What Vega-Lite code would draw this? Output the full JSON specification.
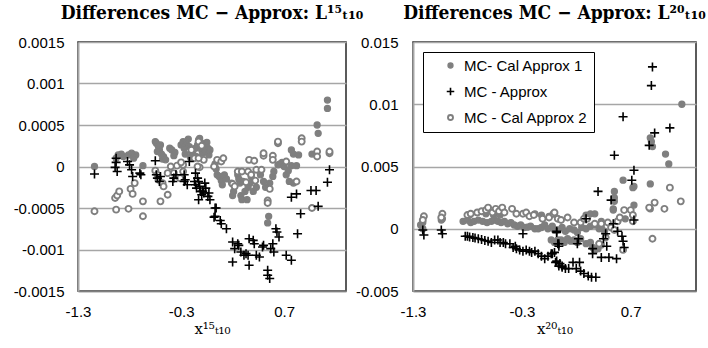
{
"$schema": "https://vega.github.io/schema/vega-lite/v6.json",
"padding": {"left": 12, "top": 3, "right": 0, "bottom": 0},
"background": "white",
"spacing": 67,
"bounds": "flush",
"config": {
  "view": {"stroke": "#262626", "strokeWidth": 1.5},
  "axis": {"labelFont": "Liberation Sans", "labelFontSize": 15, "labelColor": "#000", "ticks": false, "tickSize": 0, "labelFlush": false, "labelOverlap": false, "gridColor": "#a6a6a6", "gridWidth": 1.5},
  "title": {"font": "'DejaVu Serif Condensed', 'Liberation Serif', serif", "fontSize": 19, "fontWeight": "bold", "frame": "group", "offset": 12, "color": "#000"}
},
"resolve": {"scale": {"shape": "independent", "fill": "independent", "stroke": "independent", "strokeWidth": "independent"}, "legend": {"shape": "independent", "fill": "independent", "stroke": "independent", "strokeWidth": "independent"}},
"datasets": {
"L": [
{"s":"a","x":-1.14,"y":0},{"s":"a","x":-0.93,"y":0.0001},{"s":"a","x":-0.91,"y":0.00014},{"s":"a","x":-0.88,"y":0.00015},{"s":"a","x":-0.86,"y":0.00012},{"s":"a","x":-0.81,"y":0.00014},{"s":"a","x":-0.78,"y":0.00016},{"s":"a","x":-0.74,"y":0.00014},{"s":"a","x":-0.76,"y":0.0001},{"s":"a","x":-0.67,"y":0.00001},{"s":"a","x":-0.55,"y":0.0003},{"s":"a","x":-0.54,"y":0.00028},{"s":"a","x":-0.53,"y":0.00018},{"s":"a","x":-0.52,"y":0.00024},{"s":"a","x":-0.51,"y":0.0002},{"s":"a","x":-0.5,"y":0.00026},{"s":"a","x":-0.49,"y":0.00015},{"s":"a","x":-0.48,"y":0.00009},{"s":"a","x":-0.47,"y":0.00012},{"s":"a","x":-0.45,"y":0.00008},{"s":"a","x":-0.41,"y":0.00022},{"s":"a","x":-0.39,"y":0.0002},{"s":"a","x":-0.37,"y":0.00013},{"s":"a","x":-0.36,"y":0.00017},{"s":"a","x":-0.3,"y":0.00026},{"s":"a","x":-0.28,"y":0.0003},{"s":"a","x":-0.27,"y":0.00022},{"s":"a","x":-0.26,"y":0.00015},{"s":"a","x":-0.25,"y":0.00028},{"s":"a","x":-0.23,"y":0.00033},{"s":"a","x":-0.22,"y":0.00024},{"s":"a","x":-0.21,"y":0.00011},{"s":"a","x":-0.2,"y":0.00018},{"s":"a","x":-0.18,"y":0.00014},{"s":"a","x":-0.16,"y":0.00022},{"s":"a","x":-0.15,"y":0.00012},{"s":"a","x":-0.14,"y":0.00026},{"s":"a","x":-0.13,"y":0.00032},{"s":"a","x":-0.12,"y":0.00034},{"s":"a","x":-0.11,"y":0.00024},{"s":"a","x":-0.1,"y":0.0002},{"s":"a","x":-0.1,"y":0.00028},{"s":"a","x":-0.09,"y":0.00016},{"s":"a","x":-0.08,"y":0.00026},{"s":"a","x":-0.07,"y":0.00021},{"s":"a","x":-0.06,"y":0.00018},{"s":"a","x":-0.05,"y":0.00029},{"s":"a","x":-0.04,"y":0.00022},{"s":"a","x":-0.03,"y":0.00014},{"s":"a","x":-0.02,"y":0.0002},{"s":"a","x":0.03,"y":0.00003},{"s":"a","x":0.04,"y":-0.00003},{"s":"a","x":0.05,"y":-0.0001},{"s":"a","x":0.07,"y":-0.00012},{"s":"a","x":0.09,"y":-0.00017},{"s":"a","x":0.1,"y":-0.00022},{"s":"a","x":0.12,"y":-0.0001},{"s":"a","x":0.14,"y":-0.00015},{"s":"a","x":0.19,"y":-0.0002},{"s":"a","x":0.2,"y":-0.00035},{"s":"a","x":0.21,"y":-0.0003},{"s":"a","x":0.25,"y":-0.0001},{"s":"a","x":0.26,"y":-0.00015},{"s":"a","x":0.27,"y":-0.0002},{"s":"a","x":0.28,"y":-0.00035},{"s":"a","x":0.29,"y":-0.0004},{"s":"a","x":0.3,"y":-0.00018},{"s":"a","x":0.32,"y":-0.0003},{"s":"a","x":0.34,"y":-0.0004},{"s":"a","x":0.35,"y":-0.00025},{"s":"a","x":0.37,"y":-0.0002},{"s":"a","x":0.38,"y":-0.00012},{"s":"a","x":0.4,"y":-0.0003},{"s":"a","x":0.43,"y":-0.00025},{"s":"a","x":0.47,"y":-0.0001},{"s":"a","x":0.5,"y":-0.00018},{"s":"a","x":0.52,"y":-0.00025},{"s":"a","x":0.54,"y":-0.00042},{"s":"a","x":0.55,"y":-0.0006},{"s":"a","x":0.54,"y":-0.00068},{"s":"a","x":0.56,"y":-0.0002},{"s":"a","x":0.59,"y":-0.00012},{"s":"a","x":0.6,"y":-0.00006},{"s":"a","x":0.64,"y":0.00002},{"s":"a","x":0.66,"y":0.00003},{"s":"a","x":0.68,"y":0.00005},{"s":"a","x":0.7,"y":0},{"s":"a","x":0.72,"y":-0.0001},{"s":"a","x":0.74,"y":-0.00005},{"s":"a","x":0.75,"y":-0.00018},{"s":"a","x":0.77,"y":0.0002},{"s":"a","x":0.77,"y":0.00001},{"s":"a","x":0.79,"y":0.00015},{"s":"a","x":0.79,"y":-0.0002},{"s":"a","x":0.82,"y":0.00001},{"s":"a","x":0.84,"y":0.00014},{"s":"a","x":0.97,"y":0.00015},{"s":"a","x":1.02,"y":0.0005},{"s":"a","x":1.03,"y":0.0004},{"s":"a","x":1.12,"y":0.0008},{"s":"a","x":1.12,"y":0.0007},
{"s":"c","x":-1.14,"y":-0.00054},{"s":"c","x":-0.94,"y":-0.00038},{"s":"c","x":-0.92,"y":-0.00035},{"s":"c","x":-0.9,"y":-0.0003},{"s":"c","x":-0.93,"y":-0.00052},{"s":"c","x":-0.81,"y":-0.00051},{"s":"c","x":-0.79,"y":-0.00027},{"s":"c","x":-0.77,"y":-0.00033},{"s":"c","x":-0.75,"y":-0.0002},{"s":"c","x":-0.67,"y":-0.00042},{"s":"c","x":-0.67,"y":-0.0006},{"s":"c","x":-0.55,"y":-0.00005},{"s":"c","x":-0.53,"y":-0.0001},{"s":"c","x":-0.52,"y":-0.00016},{"s":"c","x":-0.48,"y":-0.0002},{"s":"c","x":-0.47,"y":-0.00024},{"s":"c","x":-0.5,"y":-0.00042},{"s":"c","x":-0.43,"y":-0.00034},{"s":"c","x":-0.43,"y":-0.00008},{"s":"c","x":-0.4,"y":0},{"s":"c","x":-0.34,"y":0.00001},{"s":"c","x":-0.37,"y":-0.00008},{"s":"c","x":-0.28,"y":-0.00006},{"s":"c","x":-0.31,"y":-0.00014},{"s":"c","x":-0.28,"y":0.00002},{"s":"c","x":-0.12,"y":-0.00001},{"s":"c","x":-0.17,"y":0.0001},{"s":"c","x":-0.2,"y":0.0002},{"s":"c","x":-0.14,"y":0},{"s":"c","x":-0.3,"y":0.00005},{"s":"c","x":-0.08,"y":0.00008},{"s":"c","x":-0.13,"y":0.0003},{"s":"c","x":-0.1,"y":0.00025},{"s":"c","x":-0.13,"y":0.0001},{"s":"c","x":0.02,"y":0},{"s":"c","x":0.05,"y":0.00008},{"s":"c","x":0.09,"y":0.00006},{"s":"c","x":0.11,"y":0.0001},{"s":"c","x":0.25,"y":-0.00006},{"s":"c","x":0.29,"y":-0.00006},{"s":"c","x":0.35,"y":-0.00006},{"s":"c","x":0.38,"y":-0.0001},{"s":"c","x":0.43,"y":-0.00004},{"s":"c","x":0.48,"y":-0.00004},{"s":"c","x":0.42,"y":-0.00017},{"s":"c","x":0.33,"y":-0.00019},{"s":"c","x":0.2,"y":-0.00021},{"s":"c","x":0.22,"y":-0.00024},{"s":"c","x":0.56,"y":-0.00027},{"s":"c","x":0.54,"y":-0.00041},{"s":"c","x":0.54,"y":-0.00044},{"s":"c","x":0.36,"y":0.00008},{"s":"c","x":0.41,"y":0.00007},{"s":"c","x":0.5,"y":0.00013},{"s":"c","x":0.5,"y":0.00016},{"s":"c","x":0.59,"y":0.00013},{"s":"c","x":0.59,"y":0.00008},{"s":"c","x":0.64,"y":0.00028},{"s":"c","x":0.64,"y":0.0003},{"s":"c","x":0.72,"y":0.00006},{"s":"c","x":0.82,"y":-0.00018},{"s":"c","x":0.87,"y":0.00034},{"s":"c","x":0.87,"y":0.0003},{"s":"c","x":1.02,"y":0.00018},{"s":"c","x":1.02,"y":0.00012},{"s":"c","x":1.14,"y":0.00016},{"s":"c","x":1.14,"y":0.00018},{"s":"c","x":0.97,"y":-0.0005},
{"s":"b","x":-1.14,"y":-0.00009},{"s":"b","x":-0.93,"y":0.00005},{"s":"b","x":-0.94,"y":-0.00001},{"s":"b","x":-0.92,"y":-0.00006},{"s":"b","x":-0.93,"y":0.0001},{"s":"b","x":-0.82,"y":0.00006},{"s":"b","x":-0.8,"y":0.00002},{"s":"b","x":-0.78,"y":-0.00004},{"s":"b","x":-0.77,"y":-0.00012},{"s":"b","x":-0.7,"y":-0.00008},{"s":"b","x":-0.69,"y":-0.0001},{"s":"b","x":-0.55,"y":0.00007},{"s":"b","x":-0.54,"y":-0.0001},{"s":"b","x":-0.53,"y":-0.00014},{"s":"b","x":-0.51,"y":-0.00018},{"s":"b","x":-0.5,"y":-0.00012},{"s":"b","x":-0.38,"y":-0.00018},{"s":"b","x":-0.37,"y":-0.00014},{"s":"b","x":-0.35,"y":-0.0001},{"s":"b","x":-0.27,"y":-0.0001},{"s":"b","x":-0.27,"y":-0.00018},{"s":"b","x":-0.26,"y":-0.00016},{"s":"b","x":-0.22,"y":0.00006},{"s":"b","x":-0.24,"y":-0.00022},{"s":"b","x":-0.17,"y":-0.00018},{"s":"b","x":-0.16,"y":-0.00022},{"s":"b","x":-0.14,"y":-0.00014},{"s":"b","x":-0.13,"y":-0.00018},{"s":"b","x":-0.12,"y":-0.00024},{"s":"b","x":-0.11,"y":-0.0003},{"s":"b","x":-0.1,"y":-0.00034},{"s":"b","x":-0.09,"y":-0.0003},{"s":"b","x":-0.08,"y":-0.00032},{"s":"b","x":-0.13,"y":-0.0004},{"s":"b","x":-0.15,"y":-0.00026},{"s":"b","x":-0.16,"y":-0.00008},{"s":"b","x":-0.06,"y":-0.00026},{"s":"b","x":-0.04,"y":-0.00036},{"s":"b","x":-0.03,"y":-0.00032},{"s":"b","x":-0.02,"y":-0.0004},{"s":"b","x":-0.07,"y":-0.0002},{"s":"b","x":0.03,"y":-0.0005},{"s":"b","x":0.03,"y":-0.0006},{"s":"b","x":0.04,"y":-0.0005},{"s":"b","x":0.08,"y":-0.00065},{"s":"b","x":0.09,"y":-0.00069},{"s":"b","x":0.14,"y":-0.00075},{"s":"b","x":0.02,"y":-0.00061},{"s":"b","x":0.2,"y":-0.00091},{"s":"b","x":0.22,"y":-0.00099},{"s":"b","x":0.25,"y":-0.00093},{"s":"b","x":0.26,"y":-0.00095},{"s":"b","x":0.28,"y":-0.00103},{"s":"b","x":0.31,"y":-0.00107},{"s":"b","x":0.33,"y":-0.00105},{"s":"b","x":0.35,"y":-0.00107},{"s":"b","x":0.36,"y":-0.00087},{"s":"b","x":0.4,"y":-0.00089},{"s":"b","x":0.41,"y":-0.00093},{"s":"b","x":0.43,"y":-0.00107},{"s":"b","x":0.46,"y":-0.00109},{"s":"b","x":0.49,"y":-0.00097},{"s":"b","x":0.5,"y":-0.00095},{"s":"b","x":0.57,"y":-0.00099},{"s":"b","x":0.59,"y":-0.00093},{"s":"b","x":0.62,"y":-0.00075},{"s":"b","x":0.63,"y":-0.00079},{"s":"b","x":0.65,"y":-0.00085},{"s":"b","x":0.6,"y":-0.00103},{"s":"b","x":0.2,"y":-0.00115},{"s":"b","x":0.36,"y":-0.00119},{"s":"b","x":0.54,"y":-0.00125},{"s":"b","x":0.54,"y":-0.00131},{"s":"b","x":0.56,"y":-0.00135},{"s":"b","x":0.72,"y":-0.00107},{"s":"b","x":0.77,"y":-0.00113},{"s":"b","x":0.83,"y":-0.00081},{"s":"b","x":0.86,"y":-0.00057},{"s":"b","x":0.77,"y":-0.00037},{"s":"b","x":0.82,"y":-0.00033},{"s":"b","x":0.96,"y":-0.00029},{"s":"b","x":1.01,"y":-0.00029},{"s":"b","x":1.03,"y":-0.00048},{"s":"b","x":1.12,"y":-0.00019},{"s":"b","x":1.14,"y":-0.00004}
],
"R": [
{"s":"a","x":-1.21,"y":0.0005},{"s":"a","x":-1.21,"y":0},{"s":"a","x":-1.23,"y":0.0003},{"s":"a","x":-1.03,"y":0.0008},{"s":"a","x":-1.04,"y":0.0007},{"s":"a","x":-0.84,"y":0.0006},{"s":"a","x":-0.8,"y":0.0007},{"s":"a","x":-0.77,"y":0.0005},{"s":"a","x":-0.74,"y":0.0006},{"s":"a","x":-0.7,"y":0.0007},{"s":"a","x":-0.66,"y":0.0006},{"s":"a","x":-0.62,"y":0.0005},{"s":"a","x":-0.58,"y":0.0006},{"s":"a","x":-0.55,"y":0.0007},{"s":"a","x":-0.52,"y":0.0006},{"s":"a","x":-0.49,"y":0.0005},{"s":"a","x":-0.46,"y":0.0006},{"s":"a","x":-0.43,"y":0.0004},{"s":"a","x":-0.4,"y":0.0005},{"s":"a","x":-0.37,"y":0.0003},{"s":"a","x":-0.34,"y":0.0002},{"s":"a","x":-0.31,"y":0.0003},{"s":"a","x":-0.28,"y":0.0001},{"s":"a","x":-0.25,"y":0.00013},{"s":"a","x":-0.22,"y":0.0002},{"s":"a","x":-0.18,"y":0},{"s":"a","x":-0.15,"y":0},{"s":"a","x":-0.12,"y":0.0001},{"s":"a","x":-0.09,"y":0.0003},{"s":"a","x":-0.06,"y":0},{"s":"a","x":-0.02,"y":0.0002},{"s":"a","x":0,"y":-0.0001},{"s":"a","x":0.03,"y":-0.0001},{"s":"a","x":0.07,"y":0.0001},{"s":"a","x":0.1,"y":-0.0002},{"s":"a","x":0.14,"y":0},{"s":"a","x":0.18,"y":-0.0001},{"s":"a","x":0.21,"y":-0.0003},{"s":"a","x":0.25,"y":0.0001},{"s":"a","x":0.29,"y":0},{"s":"a","x":0.33,"y":0.0002},{"s":"a","x":0.37,"y":0.0003},{"s":"a","x":0.41,"y":0},{"s":"a","x":0.43,"y":0.0001},{"s":"a","x":0.46,"y":-0.0002},{"s":"a","x":-0.78,"y":0.0011},{"s":"a","x":-0.71,"y":0.0013},{"s":"a","x":-0.63,"y":0.0012},{"s":"a","x":-0.56,"y":0.0011},{"s":"a","x":-0.5,"y":0.0011},{"s":"a","x":-0.18,"y":0.0012},{"s":"a","x":-0.12,"y":0.0011},{"s":"a","x":-0.05,"y":0.001},{"s":"a","x":0,"y":0.0012},{"s":"a","x":0.29,"y":0.0011},{"s":"a","x":0.33,"y":0.0012},{"s":"a","x":0.37,"y":0.0012},{"s":"a","x":0.43,"y":0.0006},{"s":"a","x":-0.03,"y":-0.0009},{"s":"a","x":0,"y":-0.0011},{"s":"a","x":0.03,"y":-0.0009},{"s":"a","x":0.06,"y":-0.0009},{"s":"a","x":0.09,"y":-0.0011},{"s":"a","x":0.12,"y":-0.0008},{"s":"a","x":0.15,"y":-0.001},{"s":"a","x":0.18,"y":-0.0009},{"s":"a","x":0.21,"y":-0.0011},{"s":"a","x":0.24,"y":-0.0008},{"s":"a","x":0.29,"y":-0.0012},{"s":"a","x":0.33,"y":-0.0011},{"s":"a","x":0.35,"y":-0.0015},{"s":"a","x":0.37,"y":-0.0017},{"s":"a","x":0.4,"y":-0.0016},{"s":"a","x":0.43,"y":-0.0013},{"s":"a","x":0.63,"y":0.0039},{"s":"a","x":0.88,"y":0.0036},{"s":"a","x":0.72,"y":0.0033},{"s":"a","x":0.73,"y":0.0034},{"s":"a","x":0.55,"y":0.003},{"s":"a","x":0.55,"y":0.0025},{"s":"a","x":0.55,"y":0.0022},{"s":"a","x":0.54,"y":0.0016},{"s":"a","x":0.54,"y":0.0015},{"s":"a","x":0.73,"y":0.0019},{"s":"a","x":0.88,"y":0.0016},{"s":"a","x":0.65,"y":0.0008},{"s":"a","x":0.58,"y":0.0006},{"s":"a","x":1.17,"y":0.01},{"s":"a","x":0.88,"y":0.0073},{"s":"a","x":0.9,"y":0.0066},{"s":"a","x":0.89,"y":0.007},{"s":"a","x":1.02,"y":0.006},{"s":"a","x":1.05,"y":0.0052},
{"s":"c","x":-1.2,"y":0.001},{"s":"c","x":-1.21,"y":0.0007},{"s":"c","x":-1.03,"y":0.0012},{"s":"c","x":-1.04,"y":0.0009},{"s":"c","x":-0.8,"y":0.0011},{"s":"c","x":-0.77,"y":0.0012},{"s":"c","x":-0.71,"y":0.0013},{"s":"c","x":-0.67,"y":0.0014},{"s":"c","x":-0.63,"y":0.0015},{"s":"c","x":-0.61,"y":0.0017},{"s":"c","x":-0.57,"y":0.0013},{"s":"c","x":-0.54,"y":0.0016},{"s":"c","x":-0.51,"y":0.0014},{"s":"c","x":-0.48,"y":0.0017},{"s":"c","x":-0.46,"y":0.0013},{"s":"c","x":-0.39,"y":0.0016},{"s":"c","x":-0.35,"y":0.0012},{"s":"c","x":-0.29,"y":0.0012},{"s":"c","x":-0.26,"y":0.0013},{"s":"c","x":-0.23,"y":0.001},{"s":"c","x":-0.19,"y":0.0011},{"s":"c","x":-0.11,"y":0.0008},{"s":"c","x":-0.05,"y":0.0009},{"s":"c","x":-0.01,"y":0.0012},{"s":"c","x":0,"y":0.0013},{"s":"c","x":0.03,"y":0.0008},{"s":"c","x":0.06,"y":0.0007},{"s":"c","x":0.12,"y":0.0009},{"s":"c","x":0.18,"y":0.0005},{"s":"c","x":0.24,"y":0.0005},{"s":"c","x":0.27,"y":0.0008},{"s":"c","x":0.3,"y":0.0008},{"s":"c","x":0.37,"y":0.0004},{"s":"c","x":0.43,"y":0.0004},{"s":"c","x":0.49,"y":0.0005},{"s":"c","x":0.52,"y":0.0001},{"s":"c","x":0.55,"y":-0.0001},{"s":"c","x":0.47,"y":-0.0007},{"s":"c","x":0.41,"y":-0.0012},{"s":"c","x":0.63,"y":-0.0017},{"s":"c","x":0.58,"y":0.0006},{"s":"c","x":0.6,"y":0.0009},{"s":"c","x":0.64,"y":0.0015},{"s":"c","x":0.7,"y":0.0015},{"s":"c","x":0.72,"y":0.0011},{"s":"c","x":0.72,"y":0.0006},{"s":"c","x":0.87,"y":0.0017},{"s":"c","x":0.92,"y":0.0021},{"s":"c","x":1.01,"y":0.0016},{"s":"c","x":1.06,"y":0.0033},{"s":"c","x":1.16,"y":0.0022},{"s":"c","x":0.9,"y":-0.0008},
{"s":"b","x":0.9,"y":0.013},{"s":"b","x":0.89,"y":0.0115},{"s":"b","x":0.63,"y":0.009},{"s":"b","x":1.06,"y":0.0081},{"s":"b","x":0.92,"y":0.0077},{"s":"b","x":0.87,"y":0.0067},{"s":"b","x":0.55,"y":0.0059},{"s":"b","x":0.73,"y":0.0047},{"s":"b","x":0.71,"y":0.0039},{"s":"b","x":0.4,"y":0.003},{"s":"b","x":0.52,"y":0.0023},{"s":"b","x":0.73,"y":0.0007},{"s":"b","x":0.54,"y":0.0004},{"s":"b","x":0.29,"y":0.0008},{"s":"b","x":0.62,"y":-0.0006},{"s":"b","x":0.63,"y":-0.001},{"s":"b","x":0.64,"y":-0.0015},{"s":"b","x":0.45,"y":-0.0008},{"s":"b","x":0.48,"y":-0.0014},{"s":"b","x":0.35,"y":-0.0016},{"s":"b","x":0.35,"y":-0.002},{"s":"b","x":0.22,"y":-0.0008},{"s":"b","x":0.21,"y":-0.0012},{"s":"b","x":0.02,"y":-0.0002},{"s":"b","x":0.03,"y":-0.0012},{"s":"b","x":0.04,"y":-0.0014},{"s":"b","x":0.43,"y":-0.0023},{"s":"b","x":0.5,"y":-0.0023},{"s":"b","x":0.57,"y":-0.0024},{"s":"b","x":0.17,"y":-0.0027},{"s":"b","x":0.23,"y":-0.0027},{"s":"b","x":0.2,"y":-0.0032},{"s":"b","x":0.24,"y":-0.0034},{"s":"b","x":0.27,"y":-0.0036},{"s":"b","x":0.31,"y":-0.0038},{"s":"b","x":0.34,"y":-0.0039},{"s":"b","x":0.38,"y":-0.0039},{"s":"b","x":-0.02,"y":-0.002},{"s":"b","x":0.01,"y":-0.0027},{"s":"b","x":0.04,"y":-0.003},{"s":"b","x":0.07,"y":-0.0031},{"s":"b","x":0.1,"y":-0.0032},{"s":"b","x":0.13,"y":-0.0032},{"s":"b","x":-1.21,"y":-0.0001},{"s":"b","x":-1.2,"y":-0.0005},{"s":"b","x":-1.04,"y":-0.0001},{"s":"b","x":-1.03,"y":-0.0004},{"s":"b","x":-0.82,"y":-0.0006},{"s":"b","x":-0.8,"y":-0.0006},{"s":"b","x":-0.78,"y":-0.00067},{"s":"b","x":-0.75,"y":-0.0007},{"s":"b","x":-0.73,"y":-0.00075},{"s":"b","x":-0.7,"y":-0.0008},{"s":"b","x":-0.67,"y":-0.00086},{"s":"b","x":-0.64,"y":-0.00094},{"s":"b","x":-0.61,"y":-0.001},{"s":"b","x":-0.58,"y":-0.0011},{"s":"b","x":-0.55,"y":-0.0009},{"s":"b","x":-0.52,"y":-0.0009},{"s":"b","x":-0.5,"y":-0.0011},{"s":"b","x":-0.47,"y":-0.0011},{"s":"b","x":-0.45,"y":-0.0012},{"s":"b","x":-0.41,"y":-0.0012},{"s":"b","x":-0.38,"y":-0.0015},{"s":"b","x":-0.36,"y":-0.0014},{"s":"b","x":-0.35,"y":-0.0016},{"s":"b","x":-0.32,"y":-0.0017},{"s":"b","x":-0.29,"y":-0.0018},{"s":"b","x":-0.26,"y":-0.0017},{"s":"b","x":-0.23,"y":-0.0018},{"s":"b","x":-0.21,"y":-0.0019},{"s":"b","x":-0.18,"y":-0.0018},{"s":"b","x":-0.15,"y":-0.002},{"s":"b","x":-0.12,"y":-0.0022},{"s":"b","x":-0.09,"y":-0.0024},{"s":"b","x":-0.06,"y":-0.0022},{"s":"b","x":-0.03,"y":-0.002},{"s":"b","x":0,"y":-0.0019},{"s":"b","x":0.02,"y":-0.0026},{"s":"b","x":0.05,"y":-0.0028},{"s":"b","x":0.07,"y":-0.003},{"s":"b","x":0.02,"y":-0.0003},{"s":"b","x":-0.29,"y":-0.0004},{"s":"b","x":0.04,"y":-0.0012},{"s":"b","x":0.47,"y":-0.0004},{"s":"b","x":0.58,"y":-0.0002}
]
},
"hconcat": [
{
  "width": 268, "height": 249,
  "title": "Differences MC − Approx: L¹⁵ₜ₁₀",
  "data": {"name": "L"},
  "mark": {"type": "point", "opacity": 1, "size": 36},
  "encoding": {
    "x": {"field": "x", "type": "quantitative", "scale": {"domain": [-1.3, 1.3], "nice": false, "zero": false},
      "axis": {"values": [-1.3, -0.3, 0.7], "grid": false, "labelPadding": 13, "labelExpr": "'' + datum.value", "title": "x¹⁵ₜ₁₀", "titleFont": "DejaVu Serif", "titleFontSize": 15, "titleFontWeight": "normal", "titleColor": "#000", "titlePadding": 2, "domainColor": "#7f7f7f", "domainWidth": 1.5}},
    "y": {"field": "y", "type": "quantitative", "scale": {"domain": [-0.0015, 0.0015], "nice": false, "zero": false},
      "axis": {"values": [-0.0015, -0.001, -0.0005, 0, 0.0005, 0.001, 0.0015], "labelPadding": 14, "labelExpr": "'' + datum.value", "title": null, "domainColor": "#a6a6a6", "domainWidth": 2}},
    "shape": {"field": "s", "type": "nominal", "scale": {"domain": ["a", "b", "c"], "range": ["circle", "M-1.5,0H1.5M0,-1.5V1.5", "circle"]}, "legend": null},
    "fill": {"field": "s", "type": "nominal", "scale": {"domain": ["a", "b", "c"], "range": ["#7f7f7f", "transparent", "#ffffff"]}, "legend": null},
    "stroke": {"field": "s", "type": "nominal", "scale": {"domain": ["a", "b", "c"], "range": ["#7f7f7f", "#000000", "#7f7f7f"]}, "legend": null},
    "strokeWidth": {"field": "s", "type": "nominal", "scale": {"domain": ["a", "b", "c"], "range": [1.3, 1.9, 1.3]}, "legend": null}
  }
},
{
  "width": 283, "height": 249,
  "title": "Differences MC − Approx: L²⁰ₜ₁₀",
  "data": {"name": "R"},
  "mark": {"type": "point", "opacity": 1, "size": 36},
  "encoding": {
    "x": {"field": "x", "type": "quantitative", "scale": {"domain": [-1.3, 1.3], "nice": false, "zero": false},
      "axis": {"values": [-1.3, -0.3, 0.7], "grid": false, "labelPadding": 13, "labelExpr": "'' + datum.value", "title": "x²⁰ₜ₁₀", "titleFont": "DejaVu Serif", "titleFontSize": 15, "titleFontWeight": "normal", "titleColor": "#000", "titlePadding": 2, "domainColor": "#7f7f7f", "domainWidth": 1.5}},
    "y": {"field": "y", "type": "quantitative", "scale": {"domain": [-0.005, 0.015], "nice": false, "zero": false},
      "axis": {"values": [-0.005, 0, 0.005, 0.01, 0.015], "labelPadding": 15, "labelExpr": "'' + datum.value", "title": null, "domainColor": "#a6a6a6", "domainWidth": 2}},
    "shape": {"field": "s", "type": "nominal", "scale": {"domain": ["a", "b", "c"], "range": ["circle", "M-1.5,0H1.5M0,-1.5V1.5", "circle"]},
      "legend": {"orient": "top-left", "offset": 10, "title": null, "labelExpr": "datum.label == 'a' ? 'MC- Cal  Approx 1' : datum.label == 'b' ? 'MC - Approx' : 'MC - Cal Approx 2'", "labelFont": "Liberation Sans", "labelFontSize": 15, "labelColor": "#000", "strokeColor": "#000", "fillColor": "#fff", "padding": 6, "rowPadding": 10, "symbolOffset": 14, "labelOffset": 6, "symbolSize": 25}},
    "fill": {"field": "s", "type": "nominal", "scale": {"domain": ["a", "b", "c"], "range": ["#7f7f7f", "transparent", "#ffffff"]}},
    "stroke": {"field": "s", "type": "nominal", "scale": {"domain": ["a", "b", "c"], "range": ["#7f7f7f", "#000000", "#7f7f7f"]}},
    "strokeWidth": {"field": "s", "type": "nominal", "scale": {"domain": ["a", "b", "c"], "range": [1.3, 1.9, 1.3]}}
  }
}
]
}
